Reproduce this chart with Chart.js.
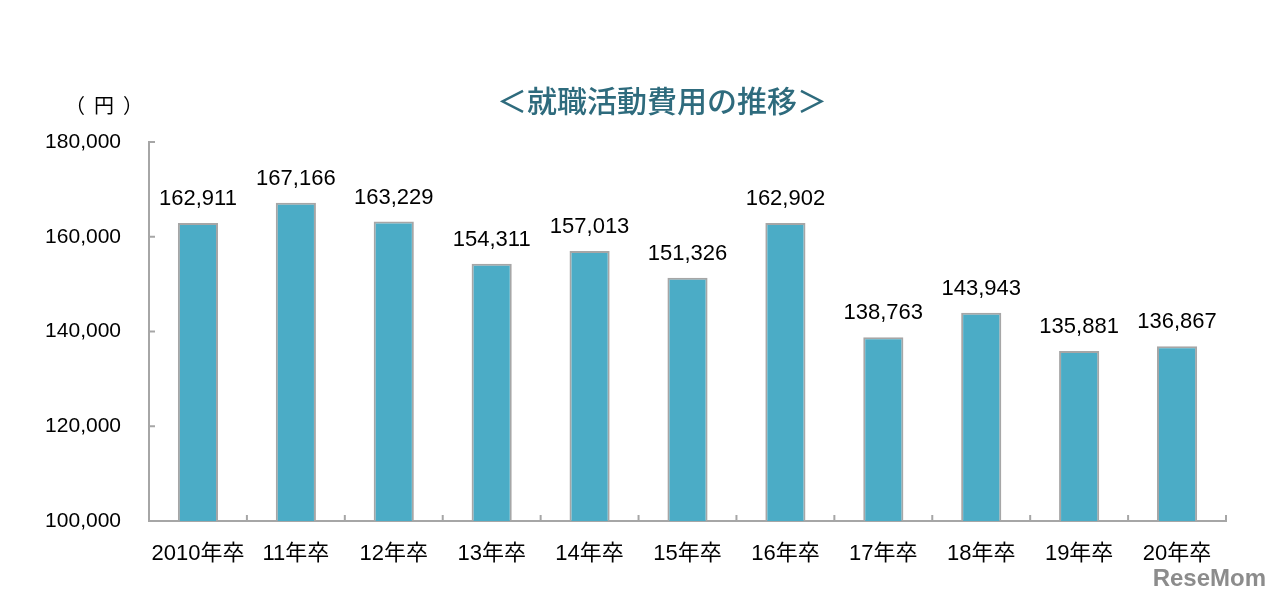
<!DOCTYPE html>
<html>
<head>
<meta charset="utf-8">
<script src="https://cdn.jsdelivr.net/npm/chart.js@4"></script>
<style>
  html, body { margin: 0; padding: 0; background: #fff; }
  #wrap { width: 1280px; height: 599px; }
</style>
</head>
<body>
<div id="wrap"><canvas id="costChart" width="1280" height="599"></canvas></div>
<script>
const categories = ["2010年卒", "11年卒", "12年卒", "13年卒", "14年卒", "15年卒", "16年卒", "17年卒", "18年卒", "19年卒", "20年卒"];
const costs = [162911, 167166, 163229, 154311, 157013, 151326, 162902, 138763, 143943, 135881, 136867];
const yTicks = [100000, 120000, 140000, 160000, 180000];

const numFont = '"Liberation Sans", "Noto Sans CJK JP", sans-serif';
const axisGray = "#A6A6A6";

// value labels above bars, inner tick marks, title, unit and watermark
const extras = {
  id: "extras",
  afterDatasetsDraw(chart) {
    const ctx = chart.ctx;
    const meta = chart.getDatasetMeta(0);
    ctx.save();
    ctx.fillStyle = "#000";
    ctx.font = "22px " + numFont;
    ctx.textAlign = "center";
    ctx.textBaseline = "bottom";
    meta.data.forEach((bar, i) => {
      ctx.fillText(costs[i].toLocaleString("en-US"), bar.x, bar.y - 13);
    });
    ctx.restore();
  },
  afterDraw(chart) {
    const ctx = chart.ctx;
    const y = chart.scales.y;
    const area = chart.chartArea;
    ctx.save();
    ctx.strokeStyle = axisGray;
    ctx.lineWidth = 2;
    // y ticks pointing into the plot
    yTicks.forEach(v => {
      const py = y.getPixelForValue(v);
      ctx.beginPath();
      ctx.moveTo(area.left, py);
      ctx.lineTo(area.left + 6, py);
      ctx.stroke();
    });
    // x ticks at category boundaries
    const step = (area.right - area.left) / categories.length;
    for (let i = 1; i <= categories.length; i++) {
      const px = area.left + step * i;
      ctx.beginPath();
      ctx.moveTo(px, area.bottom);
      ctx.lineTo(px, area.bottom - 6);
      ctx.stroke();
    }
    // title
    ctx.fillStyle = "#2E6B7D";
    ctx.font = "500 30px 'Noto Sans CJK JP', sans-serif";
    ctx.textAlign = "center";
    ctx.textBaseline = "middle";
    ctx.fillText("＜就職活動費用の推移＞", 662, 101);
    // unit, drawn char by char to spread the parens like the original
    ctx.fillStyle = "#000";
    ctx.font = "20px 'Noto Sans CJK JP', sans-serif";
    ctx.fillText("（", 75, 105);
    ctx.fillText("円", 104, 105);
    ctx.fillText("）", 133, 105);
    // watermark
    ctx.fillStyle = "#8C8C8C";
    ctx.font = "bold 24px 'Liberation Sans', sans-serif";
    ctx.textAlign = "right";
    ctx.fillText("ReseMom", 1266, 579);
    ctx.restore();
  }
};

new Chart(document.getElementById("costChart"), {
  type: "bar",
  data: {
    labels: categories,
    datasets: [{
      data: costs,
      backgroundColor: "#4BACC6",
      borderColor: axisGray,
      borderWidth: 2,
      borderSkipped: "bottom",
      categoryPercentage: 1,
      barPercentage: 0.41
    }]
  },
  options: {
    responsive: false,
    animation: false,
    layout: { padding: { top: 142, right: 54, bottom: 0, left: 0 } },
    plugins: { legend: { display: false }, tooltip: { enabled: false } },
    scales: {
      x: {
        grid: { display: false },
        border: { color: axisGray, width: 2 },
        ticks: { color: "#000", font: { size: 22, family: numFont }, padding: 12, maxRotation: 0, autoSkip: false },
        afterFit(scale) { scale.height = 78; }
      },
      y: {
        min: 100000,
        max: 180000,
        grid: { display: false },
        border: { color: axisGray, width: 2 },
        afterBuildTicks(scale) { scale.ticks = yTicks.map(v => ({ value: v })); },
        ticks: {
          color: "#000",
          font: { size: 21, family: numFont },
          padding: 20,
          callback: v => v.toLocaleString("en-US")
        },
        afterFit(scale) { scale.width = 149; }
      }
    }
  },
  plugins: [extras]
});
</script>
</body>
</html>
